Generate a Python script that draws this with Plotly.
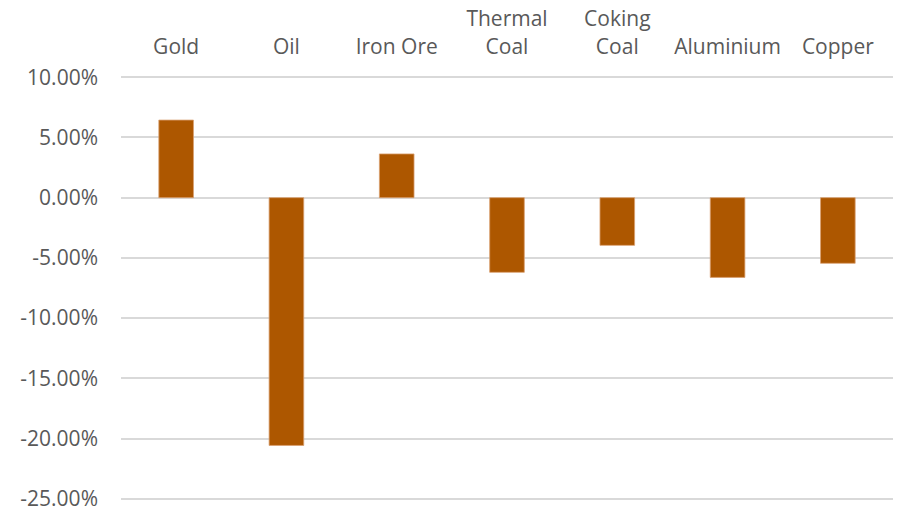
import plotly.graph_objects as go

categories = ["Gold", "Oil", "Iron Ore", "Thermal<br>Coal", "Coking<br>Coal", "Aluminium", "Copper"]
values = [0.0644, -0.2057, 0.0363, -0.0620, -0.0396, -0.0662, -0.0545]
tick_vals = [0.10, 0.05, 0.0, -0.05, -0.10, -0.15, -0.20, -0.25]
tick_text = ["10.00%", "5.00%", "0.00%", "-5.00%", "-10.00%", "-15.00%", "-20.00%", "-25.00%"]

text_color = "#595959"
grid_color = "#D9D9D9"
bar_color = "#AD5700"

fig = go.Figure(
    go.Bar(
        x=categories,
        y=values,
        marker=dict(color=bar_color, line=dict(color="#D9A070", width=0.8)),
    )
)

fig.update_layout(
    width=897,
    height=509,
    margin=dict(l=121, r=4, t=76, b=9),
    paper_bgcolor="white",
    plot_bgcolor="white",
    bargap=0.686,
    showlegend=False,
    font=dict(family="Open Sans", size=21, color=text_color),
)

fig.update_xaxes(
    side="top",
    showgrid=False,
    showline=False,
    zeroline=False,
    ticks="",
    automargin=False,
    ticklabelstandoff=17,
    tickfont=dict(family="Open Sans", size=21, color=text_color),
)

fig.update_yaxes(
    range=[-0.2510, 0.1010],
    tickvals=tick_vals,
    ticktext=tick_text,
    showgrid=True,
    gridcolor=grid_color,
    gridwidth=1.5,
    zeroline=True,
    zerolinecolor=grid_color,
    zerolinewidth=1.5,
    showline=False,
    ticks="",
    automargin=False,
    ticklabelstandoff=22,
    ticklabeloverflow="allow",
    tickfont=dict(family="Open Sans", size=21, color=text_color),
)

fig.write_html("out.html")
